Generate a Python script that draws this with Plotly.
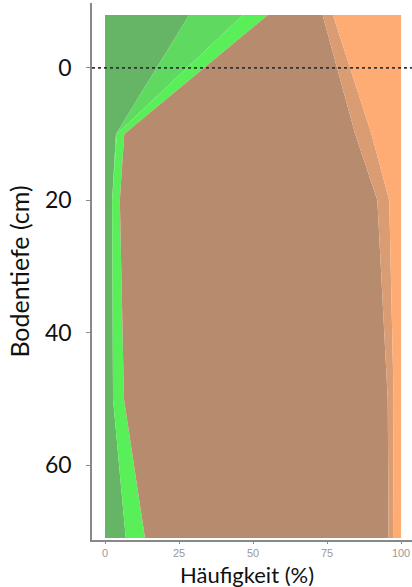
import plotly.graph_objects as go

# depth (cm) of profile points
depth = [-8, 10, 20, 50, 71]

# shares (%) of each class at each depth, stacked left to right
dark_green = [28.4, 3.7, 2.4, 2.7, 7.0]
mid_green = [18.2, 0.3, 0.0, 0.0, 0.0]
bright_green = [8.4, 2.5, 2.6, 3.7, 6.5]
brown = [18.5, 78.0, 87.0, 89.1, 82.3]
tan = [3.5, 5.5, 4.0, 2.0, 1.5]
orange = [23.0, 10.0, 4.0, 2.5, 2.7]

series = [
    ("dunkelgrün", dark_green, "#66b466"),
    ("hellgrün", mid_green, "#5fd95f"),
    ("grün", bright_green, "#58ef58"),
    ("braun", brown, "#b78c6e"),
    ("hellbraun", tan, "#d99c73"),
    ("orange", orange, "#ffab74"),
]

x_ticks = [0, 25, 50, 75, 100]
y_ticks = [0, 20, 40, 60]

fig = go.Figure()
for name, vals, col in series:
    fig.add_trace(go.Scatter(
        x=vals, y=depth, name=name, orientation="h", stackgroup="one",
        mode="none", fillcolor=col, line=dict(width=0), hoverinfo="skip",
    ))

fig.add_shape(type="line", xref="paper", yref="y", x0=0, x1=1, y0=0, y1=0,
              line=dict(color="#333333", width=1.6, dash="dot"))

fig.add_annotation(
    text="Häufigkeit (%)", xref="paper", yref="paper", x=0.485, y=0,
    xanchor="center", yanchor="middle", yshift=-34, showarrow=False,
    font=dict(size=22, color="#111111", family="Lato, Open Sans, sans-serif"),
)

fig.update_layout(
    width=412, height=587,
    margin=dict(l=92, r=0, t=3, b=47),
    plot_bgcolor="white", paper_bgcolor="white",
    showlegend=False,
    font=dict(family="Lato, Open Sans, sans-serif", color="#111111"),
)
fig.update_xaxes(
    range=[-4.4, 103.7], tickvals=x_ticks, ticktext=[str(v) for v in x_ticks],
    showgrid=False, zeroline=False, showline=True, linecolor="#888888", linewidth=1.5,
    ticks="outside", ticklen=2, tickcolor="#888888", ticklabelstandoff=0,
    tickfont=dict(size=11, color="#999999", family="Liberation Sans, Arial, sans-serif"),
)
fig.update_yaxes(
    range=[71.3, -9.8], tickvals=y_ticks, ticktext=[str(v) for v in y_ticks],
    showgrid=False, zeroline=False, showline=True, linecolor="#888888", linewidth=1.5,
    ticks="outside", ticklen=4, tickcolor="#888888", ticklabelstandoff=10,
    tickfont=dict(size=23, color="#111111"),
    title=dict(text="Bodentiefe (cm)", font=dict(size=25, color="#111111"), standoff=8),
)

fig.write_html("out.html")
